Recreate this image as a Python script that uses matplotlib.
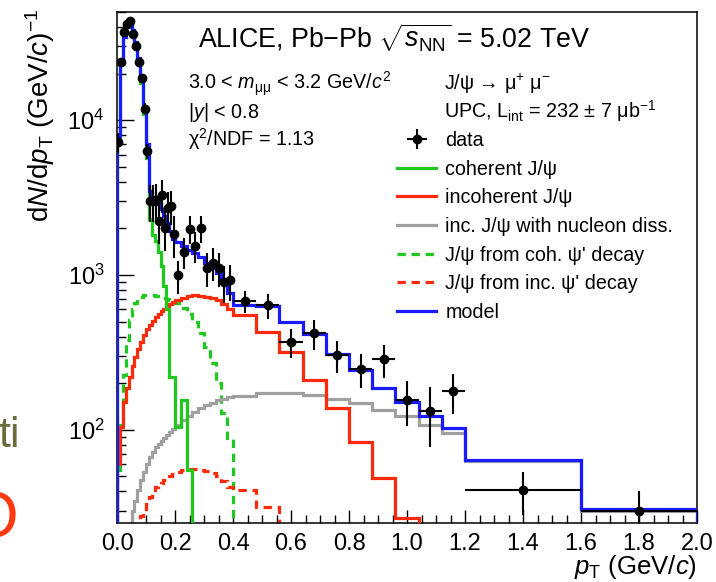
import numpy as np
import matplotlib
matplotlib.use("Agg")
import matplotlib.pyplot as plt
from matplotlib.patches import Rectangle
from matplotlib.lines import Line2D
from matplotlib.ticker import MultipleLocator, FormatStrFormatter, LogLocator, NullFormatter

plt.rcParams['font.family'] = ['Liberation Sans', 'DejaVu Sans']
plt.rcParams['mathtext.fontset'] = 'custom'
plt.rcParams['mathtext.rm'] = 'Liberation Sans'
plt.rcParams['mathtext.it'] = 'Liberation Sans:italic'
plt.rcParams['mathtext.bf'] = 'Liberation Sans:bold'

# pT binning (GeV/c)
pt_edges = [0.00, 0.01, 0.02, 0.03, 0.04, 0.05, 0.06, 0.07, 0.08, 0.09, 0.10,
            0.11, 0.12, 0.13, 0.14, 0.15, 0.16, 0.17, 0.18, 0.19, 0.20,
            0.22, 0.24, 0.26, 0.28, 0.30, 0.32, 0.34, 0.36, 0.38, 0.40,
            0.48, 0.56, 0.64, 0.72, 0.80, 0.88, 0.96, 1.04, 1.12, 1.20,
            1.60, 2.00]

# measured dN/dpT and stat. errors
data_y = [7200, 23800, 37000, 42000, 43500, 36000, 30000, 23600, 18600, 11900,
          6300, 3010, 3010, 3070, 2240, 3300, 2020, 2720, 2800, 1850,
          994, 1416, 1990, 1537, 2020, 1117, 1203, 1109, 896, 922,
          679, 637, 368, 419, 305, 247, 285, 156, 133, 179,
          40.6, 30.1]
data_err = [1100, 1500, 1800, 1900, 1900, 1800, 1600, 1400, 1200, 950,
            700, 800, 800, 780, 650, 800, 600, 700, 700, 560,
            240, 330, 400, 350, 400, 280, 290, 270, 240, 240,
            108, 117, 78, 93, 72, 60, 68, 50, 55, 52,
            12.5, 10]

# fit components
coherent = [7800, 23100, 34300, 40200, 42600, 37600, 31200, 24300, 17500, 10900,
            5700, 2300, 1800, 1650, 1400, 1150, 850, 600, 220, 220,
            104, 156, 55, 0, 0, 0, 0, 0, 0, 0,
            0, 0, 0, 0, 0, 0, 0, 0, 0, 0,
            0, 0]
incoherent = [60, 104, 151, 186, 219, 258, 295, 332, 368, 409,
              447, 473, 502, 533, 557, 583, 600, 627, 646, 666,
              690, 713, 727, 738, 735, 725, 710, 690, 650, 605,
              549, 427, 318, 210, 138, 84, 49, 27, 10, 5,
              2, 0.5]
nucleon_diss = [0, 0, 0, 0, 20, 29.7, 34.5, 41.1, 47.7, 53.7,
                60.4, 67, 72.2, 77.8, 81.3, 85, 88.8, 92.9, 97.1, 100.7,
                107, 116, 123, 130.5, 138.5, 145, 150, 155, 159, 162.5,
                166, 172, 173, 168, 158, 148, 134, 122, 108, 96,
                63, 30.1]
coh_psi2s = [55, 108, 226, 379, 510, 600, 656, 696, 716, 738,
             738, 738, 738, 727, 727, 716, 706, 696, 686, 676,
             656, 614, 562, 500, 425, 345, 270, 200, 128, 88,
             10, 0, 0, 0, 0, 0, 0, 0, 0, 0,
             0, 0]
inc_psi2s = [0, 0, 0, 0, 0, 0, 15, 24, 27.6, 30.6,
             33, 36.6, 39.4, 42.4, 44.3, 45.6, 47.7, 49.1, 50.6, 52.1,
             53.7, 55, 55.5, 55.7, 55, 54, 52.5, 50.5, 46.5, 43,
             41.1, 31.5, 20, 8, 3, 1, 0, 0, 0, 0,
             0, 0]
model = [7900, 23300, 34700, 40800, 43300, 38500, 32200, 25400, 18600, 12100,
         7010, 3490, 3150, 3060, 2880, 2680, 2410, 2180, 1930, 1720,
         1640, 1545, 1460, 1380, 1300, 1200, 1115, 1030, 915, 770,
         637, 627, 497, 414, 308, 245, 187, 151, 122, 103,
         64, 30.6]

labels = ["data", "coherent J/ψ", "incoherent J/ψ", "inc. J/ψ with nucleon diss.",
          "J/ψ from coh. ψ' decay", "J/ψ from inc. ψ' decay", "model"]

GREEN = '#1ec81e'
RED = '#ff2a0a'
GREY = '#a0a0a0'
BLUE = '#1a1aff'
dash = (0, (2.6, 1.8))

W, H = 716, 582
fig = plt.figure(figsize=(W / 100, H / 100), dpi=100)

# leftover slide text peeking out at the left edge
fig.text(-2 / W, 1 - 447 / H, "tio", color='#6b6b3c', fontsize=31, ha='left',
         va='baseline', zorder=-2)
fig.text(19 / W, 1 - 537 / H, "O", color='#ff3a10', fontsize=46, ha='right',
         va='baseline', zorder=-2)
fig.add_artist(Rectangle((20 / W, 0), 1, 1, transform=fig.transFigure,
                         facecolor='white', edgecolor='none', zorder=-1))

ax = fig.add_axes([117 / W, 1 - 523 / H, 580 / W, 511 / H])
ax.set_yscale('log')

edges = np.array(pt_edges)
floor = 1e-3
def hist(vals, color, ls='-', z=2):
    v = np.maximum(np.array(vals, dtype=float), floor)
    return ax.stairs(v, edges, baseline=floor, color=color, lw=2.3, ls=ls, zorder=z)

hist(coh_psi2s, GREEN, dash, 2)
hist(inc_psi2s, RED, dash, 2)
hist(nucleon_diss, GREY, '-', 2)
hist(incoherent, RED, '-', 3)
hist(coherent, GREEN, '-', 3)
hist(model, BLUE, '-', 4)

centers = 0.5 * (edges[:-1] + edges[1:])
halfw = 0.5 * np.diff(edges)
eb = ax.errorbar(centers, data_y, yerr=data_err, xerr=halfw, fmt='o', color='black',
                 ms=6, elinewidth=1.5, capsize=0, zorder=6)

ax.set_xlim(0, 2.0)
ax.set_ylim(25, 5e4)

ax.xaxis.set_major_locator(MultipleLocator(0.2))
ax.xaxis.set_minor_locator(MultipleLocator(0.05))
ax.xaxis.set_major_formatter(FormatStrFormatter('%.1f'))
ax.yaxis.set_major_locator(LogLocator(base=10))
ax.yaxis.set_minor_locator(LogLocator(base=10, subs=np.arange(2, 10)))
ax.yaxis.set_minor_formatter(NullFormatter())
ax.tick_params(axis='x', which='major', direction='in', length=9.5, width=1,
               labelsize=17, pad=7, top=False)
ax.tick_params(axis='x', which='minor', direction='in', length=5.5, width=1, top=False)
ax.tick_params(axis='y', which='major', direction='in', length=12.5, width=1,
               labelsize=17, pad=9, right=False)
ax.tick_params(axis='y', which='minor', direction='in', length=6.5, width=1, right=False)
for s in ax.spines.values():
    s.set_linewidth(1.1)

# axis titles
fig.text(697 / W, 1 - 574 / H, r"$p_{\mathrm{T}}$ (GeV/$c$)", fontsize=18.5,
         ha='right', va='baseline')
fig.text(40 / W, 1 - 9 / H, r"d$N$/d$p_{\mathrm{T}}$ (GeV/$c$)$^{-1}$", fontsize=20,
         rotation=90, ha='center', va='top')

# header texts
fig.text(198 / W, 1 - 47 / H, r"ALICE, Pb$-$Pb $\sqrt{s_{\mathrm{NN}}}$ = 5.02 TeV",
         fontsize=19.3, ha='left', va='baseline')
fs = 14.2
fig.text(188 / W, 1 - 90 / H, r"3.0 < $m_{\mathrm{μμ}}$ < 3.2 GeV/$c^{2}$", fontsize=fs,
         va='baseline')
fig.text(188 / W, 1 - 118 / H, r"|$y$| < 0.8", fontsize=fs, va='baseline')
fig.text(188 / W, 1 - 146 / H, r"χ$^{2}$/NDF = 1.13", fontsize=fs, va='baseline')
fig.text(444 / W, 1 - 90 / H, r"J/ψ → μ$^{+}$ μ$^{-}$", fontsize=fs, va='baseline')
fig.text(444 / W, 1 - 118 / H, r"UPC, L$_{\mathrm{int}}$ = 232 ± 7 μb$^{-1}$", fontsize=fs,
         va='baseline')

handles = [eb,
           Line2D([], [], color=GREEN, lw=2.3),
           Line2D([], [], color=RED, lw=2.3),
           Line2D([], [], color=GREY, lw=2.3),
           Line2D([], [], color=GREEN, lw=2.3, ls=dash),
           Line2D([], [], color=RED, lw=2.3, ls=dash),
           Line2D([], [], color=BLUE, lw=2.3)]
ax.legend(handles, labels, loc='upper left', bbox_to_anchor=(397 / W, 1 - 131 / H),
          bbox_transform=fig.transFigure, frameon=False, fontsize=fs,
          handlelength=2.0, handletextpad=0.45, labelspacing=0.49,
          borderpad=0, borderaxespad=0)

fig.savefig("out.png", dpi=100)
